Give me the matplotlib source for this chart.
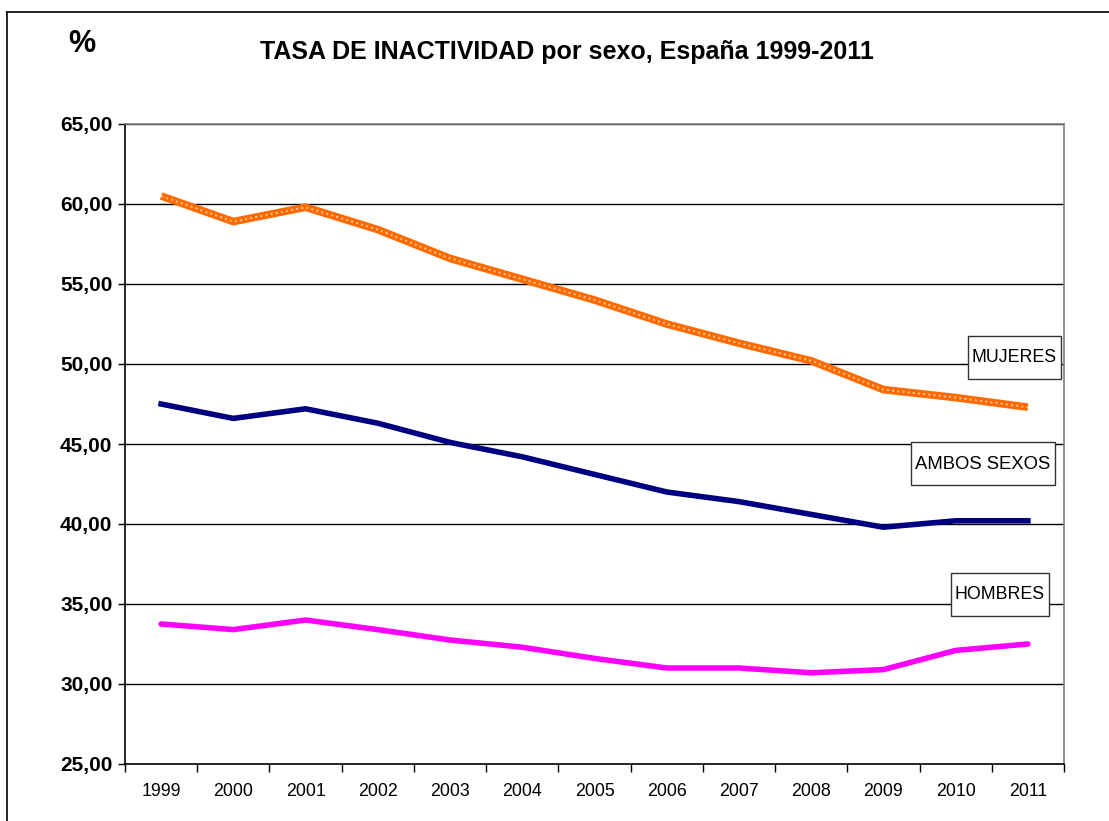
import matplotlib.pyplot as plt
from matplotlib.lines import Line2D
from matplotlib.patches import Rectangle
from matplotlib.ticker import FixedLocator, NullFormatter

plt.rcParams['font.family'] = ['Liberation Sans', 'DejaVu Sans']

# ===== Data =====
years = ["1999", "2000", "2001", "2002", "2003", "2004", "2005",
         "2006", "2007", "2008", "2009", "2010", "2011"]
mujeres = [60.5, 58.9, 59.8, 58.4, 56.6, 55.3, 54.0, 52.5, 51.3, 50.2, 48.4, 47.9, 47.3]
ambos = [47.5, 46.6, 47.2, 46.3, 45.1, 44.2, 43.1, 42.0, 41.4, 40.6, 39.8, 40.2, 40.2]
hombres = [33.75, 33.4, 34.0, 33.4, 32.75, 32.3, 31.6, 31.0, 31.0, 30.7, 30.9, 32.1, 32.5]
yticks = [25, 30, 35, 40, 45, 50, 55, 60, 65]

W, H = 1109, 821
fig = plt.figure(figsize=(W / 100, H / 100), dpi=100)
ax = fig.add_axes([125 / W, 57 / H, 939 / W, 640 / H])

x = list(range(len(years)))

# grid lines
for v in yticks[1:]:
    ax.axhline(v, color="black", lw=1, zorder=1)

# series
ax.plot(x, mujeres, color="#FF6A00", lw=5.5, solid_capstyle="butt", zorder=3)
ax.plot(x, mujeres, color="#FFC08A", lw=1.5, ls=(0, (1, 1.5)), zorder=4)
ax.plot(x, ambos, color="#000080", lw=4, solid_joinstyle="round", zorder=3)
ax.plot(x, hombres, color="#FF00FF", lw=4, solid_capstyle="round", zorder=3)

ax.set_xlim(-0.5, len(years) - 0.5)
ax.set_ylim(25, 65)

# y axis
ax.set_yticks(yticks)
ax.set_yticklabels([f"{v},00" for v in yticks], fontweight="bold", fontsize=15)
ax.tick_params(axis="y", direction="out", length=5, width=1, pad=4)

# x axis: ticks at boundaries, labels centred
ax.xaxis.set_major_locator(FixedLocator([i - 0.5 for i in range(len(years) + 1)]))
ax.xaxis.set_major_formatter(NullFormatter())
ax.xaxis.set_minor_locator(FixedLocator(x))
ax.set_xticklabels(years, minor=True, fontsize=12.8)
ax.tick_params(axis="x", which="major", direction="out", length=6, width=1)
ax.tick_params(axis="x", which="minor", length=0, pad=14)

for side in ["left", "bottom"]:
    ax.spines[side].set_color("black")
    ax.spines[side].set_linewidth(1.2)
for side in ["right", "top"]:
    ax.spines[side].set_color("#808080")
    ax.spines[side].set_linewidth(1.2)

# series labels with boxes (tight left/right, taller top/bottom)
labels = [(11.81, 50.4, "MUJERES", 12.8),
          (11.38, 43.75, "AMBOS SEXOS", 13.3),
          (11.61, 35.6, "HOMBRES", 12.8)]
texts = []
for lx, ly, s, fs in labels:
    texts.append(ax.text(lx, ly, s, fontsize=fs, ha="center", va="center", zorder=6))

fig.canvas.draw()
r = fig.canvas.get_renderer()
for t in texts:
    bb = t.get_window_extent(r)
    cx, cy = (bb.x0 + bb.x1) / 2, (bb.y0 + bb.y1) / 2
    bw, bh = bb.width + 8, 43
    ax.add_patch(Rectangle(((cx - bw / 2) / W, (cy - bh / 2) / H), bw / W, bh / H,
                           transform=fig.transFigure, fc="white", ec="#333333",
                           lw=1, zorder=5, clip_on=False))

# titles
fig.text(567 / W, 1 - 52 / H, "TASA DE INACTIVIDAD por sexo, España 1999-2011",
         ha="center", va="center", fontsize=18, fontweight="bold")
fig.text(82 / W, 1 - 44 / H, "%", ha="center", va="center",
         fontsize=22, fontweight="bold")

# outer frame
fig.add_artist(Line2D([7 / W, 1], [1 - 12 / H, 1 - 12 / H], color="black", lw=1.2))
fig.add_artist(Line2D([7 / W, 7 / W], [0, 1 - 12 / H], color="black", lw=1.2))

fig.savefig("out.png", dpi=100)
